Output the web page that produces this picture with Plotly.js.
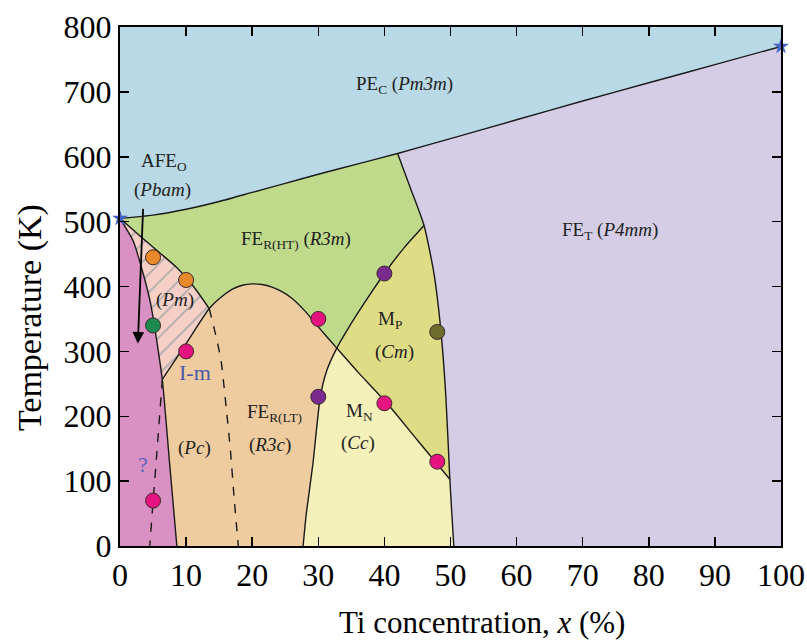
<!DOCTYPE html>
<html>
<head>
<meta charset="utf-8">
<script src="https://cdn.plot.ly/plotly-3.0.1.min.js"></script>
<style>html,body{margin:0;padding:0;background:#fff;}#chart{width:807px;height:644px;}</style>
</head>
<body>
<div id="chart"></div>
<script>
// ---- boundary curves (x = Ti %, T = K) ----
const topX = [0, 5, 10, 15, 20, 25, 30, 36, 42, 50, 60, 70, 80, 90, 100];
const topT = [505, 510, 519, 531, 545, 559, 573, 589, 605, 628, 657, 686, 714, 742, 770];
const tetX = [42, 44, 46, 47.5, 48.5, 49.3, 49.9, 50.2, 50.5];
const tetT = [605, 550, 494, 420, 337, 230, 103, 50, 0];
const monoX = [46, 43, 40, 37, 34.5, 32.8, 31.3, 30.3, 29.2, 28.2, 27.7];
const monoT = [494, 460, 420, 375, 335, 305, 271, 230, 128, 51, 0];
const domeX = [6.4, 10, 13.5, 15, 17, 18.5, 20, 21.5, 23, 24.5, 26, 28, 29.8, 32.8, 36, 40.4, 45, 49.9];
const domeT = [257, 312, 366, 381, 396, 402, 404, 403, 399, 392, 382, 362, 340, 305, 268, 220, 163, 103];
const pmRX = [0, 3, 6, 8.5, 10.5, 12.2, 13.5];
const pmRT = [505, 478, 452, 430, 408, 385, 366];
const pmLX = [0, 2, 3.5, 4.6, 5.2, 5.8, 6.4, 7.5, 8.6];
const pmLT = [505, 470, 420, 375, 340, 300, 257, 128, 0];
const dashAX = [6.4, 5.7, 5.0, 4.5];
const dashAT = [257, 160, 68, 0];
const dashBX = [13.5, 14.6, 15.3, 16.1, 16.7, 17.3, 17.9];
const dashBT = [366, 320, 285, 210, 148, 70, 0];

// ---- measured points ----
const ptX = [5, 10, 5, 10, 5, 30, 30, 40, 40, 48, 48];
const ptT = [445, 410, 340, 300, 70, 350, 230, 420, 220, 330, 130];
const ptColor = ['#e8892b', '#e8892b', '#1f8a4f', '#e5137f', '#e5137f', '#e5137f', '#7a2a8e', '#7a2a8e', '#e5137f', '#6e6c2c', '#e5137f'];
const starX = [0, 100];
const starT = [505, 770];

// ---- labels ----
const labX = [43, 74.2, 26.6, 6.6, 6.4, 8.3, 11.3, 3.5, 11.3, 23.4, 22.7, 36.3, 36, 40.8, 41.6];
const labT = [710, 485, 472, 592, 549, 379, 267, 125, 151, 205, 156, 206, 159, 348, 299];
const labText = ['PE<sub>C</sub> (<i>Pm3m</i>)', 'FE<sub>T</sub> (<i>P4mm</i>)', 'FE<sub>R(HT)</sub> (<i>R3m</i>)',
  'AFE<sub>O</sub>', '(<i>Pbam</i>)', '(<i>Pm</i>)', 'I-m', '?', '(<i>Pc</i>)',
  'FE<sub>R(LT)</sub>', '(<i>R3c</i>)', 'M<sub>N</sub>', '(<i>Cc</i>)', 'M<sub>P</sub>', '(<i>Cm</i>)'];
const labColor = ['#222', '#222', '#222', '#222', '#222', '#222', '#4a5aa8', '#5a64b8', '#222', '#222', '#222', '#222', '#222', '#222', '#222'];
const xTitle = 'Ti concentration, <i>x</i> (%)';
const yTitle = 'Temperature (K)';

const SERIF = '"Liberation Serif", "Times New Roman", Times, serif';
const C = {pe: '#b8d9e5', fet: '#d5cde6', frht: '#c0da8c', mp: '#dedc85', mn: '#f4f0ba',
  frlt: '#eecc9f', pm: '#f6d0c6', left: '#d991c3'};

function poly(xs, ys, color, extra) {
  return Object.assign({x: xs, y: ys, mode: 'lines', fill: 'toself', fillcolor: color,
    line: {width: 0, color: color}, hoverinfo: 'skip', showlegend: false}, extra || {});
}
function line(xs, ys, dash) {
  return {x: xs, y: ys, mode: 'lines', line: {color: '#1a1a1a', width: 1.4, dash: dash || 'solid', shape: 'spline', smoothing: 0.6},
    hoverinfo: 'skip', showlegend: false};
}

const i42 = topX.indexOf(42);
const tetLowIdx = tetT.map((t, i) => i).filter(i => tetT[i] < 103);
const traces = [];
traces.push(poly(topX.concat([100, 0]), topT.concat([800, 800]), C.pe));
traces.push(poly(topX.slice(0, i42 + 1).concat(tetX.slice(1), [0]),
  topT.slice(0, i42 + 1).concat(tetT.slice(1), [0]), C.frht));
const tetFrom46X = tetX.slice(2).reverse(), tetFrom46T = tetT.slice(2).reverse();
traces.push(poly(monoX.concat(tetFrom46X), monoT.concat(tetFrom46T), C.mp));
traces.push(poly(domeX.concat(tetLowIdx.map(i => tetX[i]), [0]),
  domeT.concat(tetLowIdx.map(i => tetT[i]), [0]), C.frlt));
const iD = domeX.indexOf(32.8);
const monoLowIdx = monoT.map((t, i) => i).filter(i => monoT[i] <= 305).reverse();
traces.push(poly(domeX.slice(iD).concat(tetLowIdx.map(i => tetX[i]), monoLowIdx.map(i => monoX[i])),
  domeT.slice(iD).concat(tetLowIdx.map(i => tetT[i]), monoLowIdx.map(i => monoT[i])), C.mn));
traces.push(poly(pmLX.concat([0]), pmLT.concat([0]), C.left));
const iP = pmLX.indexOf(6.4);
traces.push(poly(pmRX.concat(domeX.slice(0, 3).reverse().slice(1), pmLX.slice(0, iP + 1).reverse()),
  pmRT.concat(domeT.slice(0, 3).reverse().slice(1), pmLT.slice(0, iP + 1).reverse()), C.pm,
  {fillpattern: {shape: '/', fgcolor: '#a9a9a9', bgcolor: C.pm, size: 13, solidity: 0.12}}));

traces.push(line(topX, topT));
traces.push(line(tetX, tetT));
traces.push(line(monoX, monoT));
traces.push(line(domeX, domeT));
traces.push(line(pmRX, pmRT));
traces.push(line(pmLX, pmLT));
traces.push(line(dashAX, dashAT, 'dash'));
traces.push(line(dashBX, dashBT, 'dash'));

traces.push({x: ptX, y: ptT, mode: 'markers', hoverinfo: 'skip', showlegend: false,
  marker: {size: 15, color: ptColor, line: {color: '#3a2a2a', width: 1}}});
traces.push({x: starX, y: starT, mode: 'markers', hoverinfo: 'skip', showlegend: false, cliponaxis: false,
  marker: {symbol: 'star', size: 12, color: '#4463c4', line: {width: 0}}});

const annotations = labText.map((t, i) => ({
  x: labX[i], y: labT[i], xref: 'x', yref: 'y', text: t, showarrow: false,
  font: {family: SERIF, size: (t === 'I-m' || t === '?') ? 22 : 19, color: labColor[i]}
}));
annotations.push({x: 2.7, y: 312, ax: 3.5, ay: 522, xref: 'x', yref: 'y', axref: 'x', ayref: 'y',
  showarrow: true, arrowhead: 2, arrowsize: 1.3, arrowwidth: 1.8, arrowcolor: '#000', text: ''});
// axis titles (placed as in the reference)
annotations.push({x: 0.548, y: -0.148, xref: 'paper', yref: 'paper', text: xTitle, showarrow: false,
  xanchor: 'center', yanchor: 'middle', font: {family: SERIF, size: 31, color: '#000'}});
annotations.push({x: -0.137, y: 0.44, xref: 'paper', yref: 'paper', text: yTitle, showarrow: false,
  textangle: -90, xanchor: 'center', yanchor: 'middle', font: {family: SERIF, size: 34, color: '#000'}});

const layout = {
  width: 807, height: 644,
  margin: {l: 120, r: 26, t: 27, b: 98},
  paper_bgcolor: '#ffffff', plot_bgcolor: C.fet,
  font: {family: SERIF, color: '#000'},
  xaxis: {range: [0, 100], tickvals: [0, 10, 20, 30, 40, 50, 60, 70, 80, 90, 100],
    ticks: 'inside', ticklen: 9, tickwidth: 1.5, tickcolor: '#000', mirror: 'ticks',
    showline: true, linewidth: 2, linecolor: '#000', showgrid: false, zeroline: false,
    tickfont: {size: 32, family: SERIF}},
  yaxis: {range: [0, 800], tickvals: [0, 100, 200, 300, 400, 500, 600, 700, 800],
    ticks: 'inside', ticklen: 9, tickwidth: 1.5, tickcolor: '#000', mirror: 'ticks',
    showline: true, linewidth: 2, linecolor: '#000', showgrid: false, zeroline: false,
    tickfont: {size: 32, family: SERIF}},
  annotations: annotations
};
Plotly.newPlot('chart', traces, layout, {displayModeBar: false, staticPlot: true});
</script>
</body>
</html>
